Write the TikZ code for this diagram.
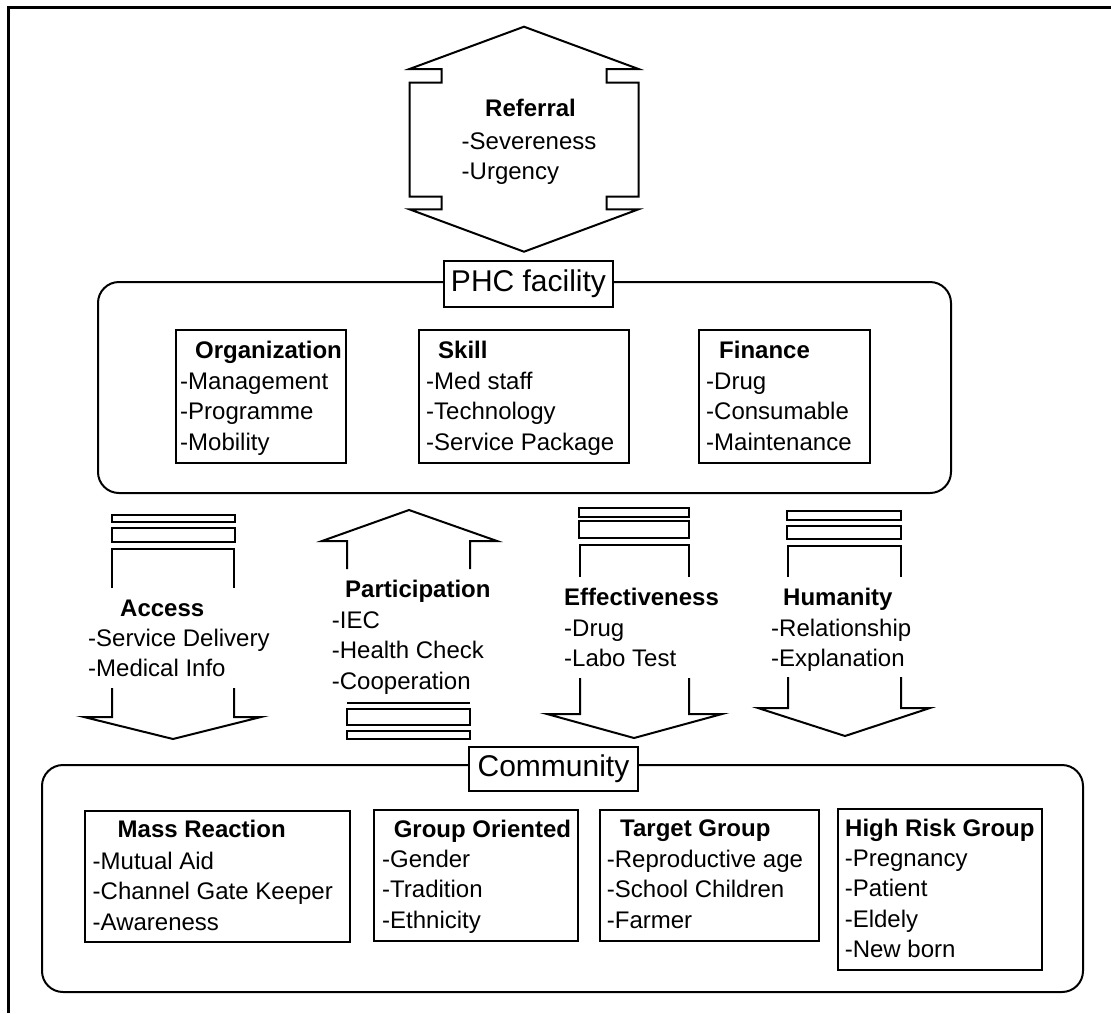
\documentclass[tikz,border=0pt]{standalone}
\usepackage{fontspec}
\setmainfont{Liberation Sans}
\begin{document}
\begin{tikzpicture}[x=1pt,y=-1pt,line join=miter,
  outline/.style={draw=black,line width=2pt},
  hdr/.style={anchor=base west,inner sep=0pt,font=\fontsize{24}{30.5}\selectfont\bfseries},
  items/.style={anchor=north west,inner sep=0pt,align=left,font=\fontsize{24}{30.5}\selectfont},
  infobox/.style={draw=black,line width=2pt,fill=white,inner sep=0pt},
  panel/.style={draw=black,line width=2pt,rounded corners=21pt,inner sep=0pt},
  tag/.style={draw=black,line width=2pt,fill=white,inner sep=0pt,font=\fontsize{30}{36}\selectfont},
  bar/.style={draw=black,line width=2pt}]
\useasboundingbox (0,0) rectangle (1111,1013);

% outer frame (top and left edges)
\draw[line width=3pt] (8,1013) -- (8,7) -- (1111,7);

% referral double arrow
\draw[outline] (524,26.7) -- (638.5,69) -- (606.5,69) -- (606.5,82.7) -- (638.5,82.7)
  -- (638.5,196.7) -- (606.5,196.7) -- (606.5,209.3) -- (638.5,209.3) -- (524,251.7)
  -- (409.5,209.3) -- (441.5,209.3) -- (441.5,196.7) -- (409.5,196.7) -- (409.5,82.7)
  -- (441.5,82.7) -- (441.5,69) -- (409.5,69) -- cycle;
\node[hdr] (reft) at (485,116) {Referral};
\node[items] (refi) at (461.5,127.6) {\strut-Severeness\\-Urgency};

% PHC facility panel
\node[panel,minimum width=853pt,minimum height=211pt] (phc) at (524.5,387.5) {};
\node[tag,minimum width=169pt,minimum height=46pt] (phctag) at (528.5,284) {PHC facility};

\node[infobox,minimum width=170pt,minimum height=133pt] (org) at (261,396.5) {};
\node[hdr] (orgt) at (195,358) {Organization};
\node[items] (orgi) at (180,367.6) {\strut-Management\\-Programme\\-Mobility};

\node[infobox,minimum width=210pt,minimum height=133pt] (skill) at (524,396.5) {};
\node[hdr] (skillt) at (438,358) {Skill};
\node[items] (skilli) at (426,367.6) {\strut-Med staff\\-Technology\\-Service Package};

\node[infobox,minimum width=171pt,minimum height=133pt] (fin) at (784,396) {};
\node[hdr] (fint) at (719,358) {Finance};
\node[items] (fini) at (706,367.6) {\strut-Drug\\-Consumable\\-Maintenance};

% access arrow (down)
\draw[bar] (112,515) rectangle (235,522);
\draw[bar] (112,528) rectangle (235,542);
\draw[outline] (112,588) -- (112,549) -- (234,549) -- (234,588);
\draw[outline] (112,688) -- (112,717) -- (84,717) -- (173,739) -- (261,717) -- (234,717) -- (234,688);
\node[hdr] (acct) at (120,616) {Access};
\node[items] (acci) at (88,624.6) {\strut-Service Delivery\\-Medical Info};

% participation arrow (up)
\draw[outline] (347,569) -- (347,541) -- (322,541) -- (409,510) -- (497,541) -- (470,541) -- (470,569);
\draw[outline] (347,703) -- (470,703);
\draw[bar] (347,709) rectangle (470,725);
\draw[bar] (347,731) rectangle (470,739);
\node[hdr] (part) at (345,597) {Participation};
\node[items] (pari) at (331.7,606.6) {\strut-IEC\\-Health Check\\-Cooperation};

% effectiveness arrow (down)
\draw[bar] (579,508) rectangle (689,517);
\draw[bar] (579,521) rectangle (689,538);
\draw[outline] (580,577) -- (580,545) -- (689,545) -- (689,577);
\draw[outline] (580,678) -- (580,714) -- (547,714) -- (634,738) -- (722,714) -- (689,714) -- (689,678);
\node[hdr] (efft) at (564,605) {Effectiveness};
\node[items] (effi) at (564,614.6) {\strut-Drug\\-Labo Test};

% humanity arrow (down)
\draw[bar] (787,511) rectangle (901,520);
\draw[bar] (787,526) rectangle (901,539);
\draw[outline] (788,577) -- (788,546) -- (901,546) -- (901,577);
\draw[outline] (788,677) -- (788,708) -- (758,708) -- (845,736) -- (930,708) -- (901,708) -- (901,677);
\node[hdr] (humt) at (783,605) {Humanity};
\node[items] (humi) at (771,614.6) {\strut-Relationship\\-Explanation};

% community panel
\node[panel,minimum width=1041pt,minimum height=227pt] (com) at (562.5,878.5) {};
\node[tag,minimum width=169pt,minimum height=44pt] (comtag) at (553.5,769) {Community};

\node[infobox,minimum width=265pt,minimum height=131pt] (mass) at (217.5,876) {};
\node[hdr] (masst) at (117.5,837) {Mass Reaction};
\node[items] (massi) at (92.5,847.6) {\strut-Mutual Aid\\-Channel Gate Keeper\\-Awareness};

\node[infobox,minimum width=204pt,minimum height=131pt] (grp) at (476,875.5) {};
\node[hdr] (grpt) at (393.6,837) {Group Oriented};
\node[items] (grpi) at (382,845.6) {\strut-Gender\\-Tradition\\-Ethnicity};

\node[infobox,minimum width=219pt,minimum height=131pt] (tgt) at (709.5,875.5) {};
\node[hdr] (tgtt) at (620,836) {Target Group};
\node[items] (tgti) at (606.7,845.6) {\strut-Reproductive age\\-School Children\\-Farmer};

\node[infobox,minimum width=204pt,minimum height=161pt] (risk) at (940,889) {};
\node[hdr] (riskt) at (845,836) {High Risk Group};
\node[items] (riski) at (844.6,844.6) {\strut-Pregnancy\\-Patient\\-Eldely\\-New born};
\end{tikzpicture}
\end{document}
